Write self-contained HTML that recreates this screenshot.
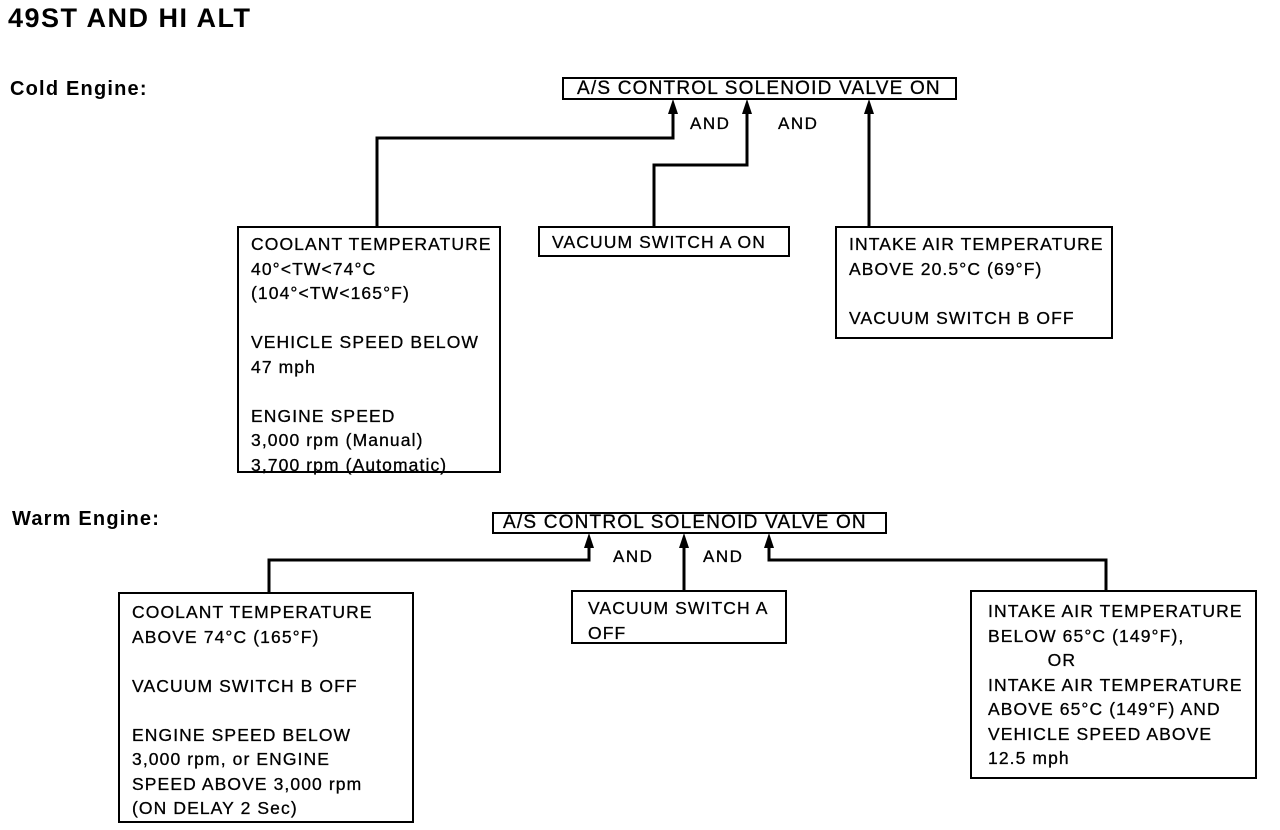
<!DOCTYPE html>
<html><head><meta charset="utf-8"><style>
body{margin:0;width:1280px;height:830px;background:#fff;position:relative;overflow:hidden;font-family:"Liberation Sans",Arial,sans-serif;color:#000}
.t{position:absolute;white-space:nowrap;-webkit-text-stroke:0.3px #000}
.b{position:absolute;border:2px solid #000;box-sizing:border-box;font-size:17.5px;letter-spacing:1.1px;line-height:24.5px;white-space:pre;-webkit-text-stroke:0.3px #000}
.h{font-weight:bold;-webkit-text-stroke:0}
</style></head><body>
<div class="t h" style="left:8px;top:3px;font-size:27px;letter-spacing:1.5px">49ST AND HI ALT</div>
<div class="t h" style="left:10px;top:78px;font-size:20px;letter-spacing:1.2px">Cold Engine:</div>
<div class="t h" style="left:12px;top:508px;font-size:20px;letter-spacing:1.2px">Warm Engine:</div>

<svg style="position:absolute;left:0;top:0" width="1280" height="830">
<g fill="none" stroke="#000" stroke-width="3">
<polyline points="377,226 377,138 673,138 673,108"/>
<polyline points="654,226 654,165 747,165 747,108"/>
<polyline points="869,226 869,108"/>
<polyline points="269,592 269,560 589,560 589,541"/>
<polyline points="684,590 684,541"/>
<polyline points="1106,590 1106,560 769,560 769,541"/>
</g>
<g fill="#000">
<polygon points="673,99 668,114 678,114"/>
<polygon points="747,99 742,114 752,114"/>
<polygon points="869,99 864,114 874,114"/>
<polygon points="589,533 584,548 594,548"/>
<polygon points="684,533 679,548 689,548"/>
<polygon points="769,533 764,548 774,548"/>
</g>
</svg>

<div class="b" style="left:562px;top:77px;width:395px;height:23px;line-height:19px;font-size:19px;letter-spacing:1.2px;padding-left:13px">A/S CONTROL SOLENOID VALVE ON</div>
<div class="t" style="left:690px;top:114px;font-size:17px;letter-spacing:1.5px">AND</div>
<div class="t" style="left:778px;top:114px;font-size:17px;letter-spacing:1.5px">AND</div>
<div class="b" style="left:237px;top:226px;width:264px;height:247px;padding:4px 0 0 12px">COOLANT TEMPERATURE
40°&lt;TW&lt;74°C
(104°&lt;TW&lt;165°F)

VEHICLE SPEED BELOW
47 mph

ENGINE SPEED
3,000 rpm (Manual)
3,700 rpm (Automatic)</div>
<div class="b" style="left:538px;top:226px;width:252px;height:31px;padding:2px 0 0 12px">VACUUM SWITCH A ON</div>
<div class="b" style="left:835px;top:226px;width:278px;height:113px;padding:4px 0 0 12px">INTAKE AIR TEMPERATURE
ABOVE 20.5°C (69°F)

VACUUM SWITCH B OFF</div>

<div class="b" style="left:492px;top:512px;width:395px;height:22px;line-height:18px;font-size:19px;letter-spacing:1.2px;padding-left:9px">A/S CONTROL SOLENOID VALVE ON</div>
<div class="t" style="left:613px;top:547px;font-size:17px;letter-spacing:1.5px">AND</div>
<div class="t" style="left:703px;top:547px;font-size:17px;letter-spacing:1.5px">AND</div>
<div class="b" style="left:118px;top:592px;width:296px;height:231px;padding:6px 0 0 12px">COOLANT TEMPERATURE
ABOVE 74°C (165°F)

VACUUM SWITCH B OFF

ENGINE SPEED BELOW
3,000 rpm, or ENGINE
SPEED ABOVE 3,000 rpm
(ON DELAY 2 Sec)</div>
<div class="b" style="left:571px;top:590px;width:216px;height:54px;padding:4px 0 0 15px">VACUUM SWITCH A
OFF</div>
<div class="b" style="left:970px;top:590px;width:287px;height:189px;padding:7px 0 0 16px">INTAKE AIR TEMPERATURE
BELOW 65°C (149°F),
          OR
INTAKE AIR TEMPERATURE
ABOVE 65°C (149°F) AND
VEHICLE SPEED ABOVE
12.5 mph</div>
</body></html>
